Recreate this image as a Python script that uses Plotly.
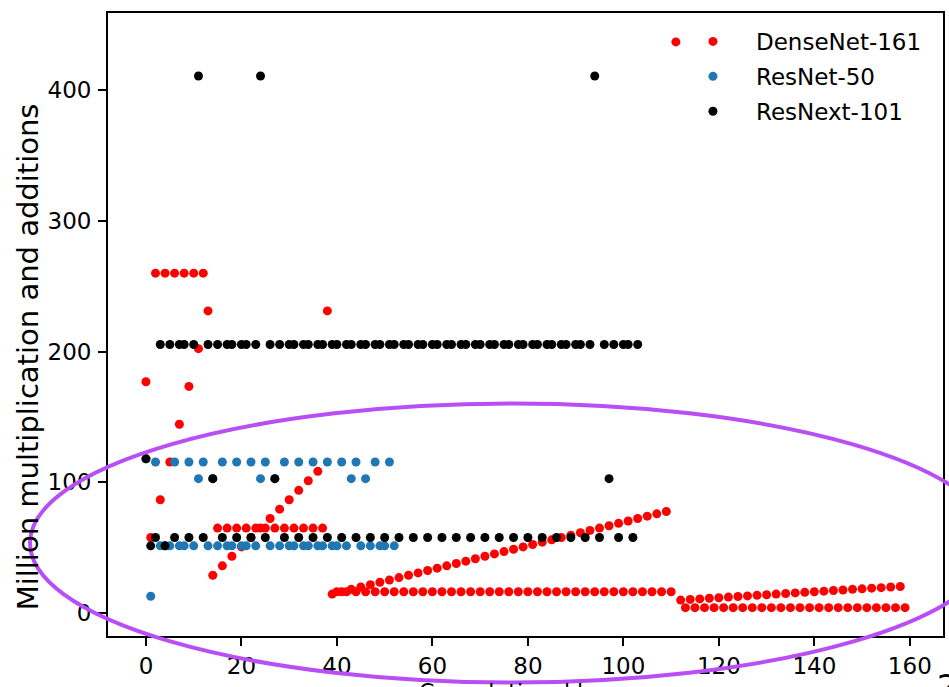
import plotly.graph_objects as go

# Cost of every convolution, in million multiply-adds, listed in network order.

# DenseNet-161: stem, 4 dense blocks (1x1 / 3x3 pairs) and 3 transition convs
densenet_stem = [177.0]
densenet_block1 = [57.8, 260.1, 86.7, 260.1, 115.6, 260.1, 144.5, 260.1,
                   173.4, 260.1, 202.3, 260.1]
densenet_trans1 = [231.2]
densenet_block2 = [28.9, 65.0, 36.1, 65.0, 43.4, 65.0, 50.6, 65.0,
                   57.8, 65.0, 65.0, 65.0, 72.3, 65.0, 79.5, 65.0,
                   86.7, 65.0, 93.9, 65.0, 101.2, 65.0, 108.4, 65.0]
densenet_trans2 = [231.2]
densenet_block3 = [14.5, 16.3, 16.3, 16.3, 18.1, 16.3, 19.9, 16.3,
                   21.7, 16.3, 23.5, 16.3, 25.3, 16.3, 27.1, 16.3,
                   28.9, 16.3, 30.7, 16.3, 32.5, 16.3, 34.3, 16.3,
                   36.1, 16.3, 37.9, 16.3, 39.7, 16.3, 41.5, 16.3,
                   43.4, 16.3, 45.2, 16.3, 47.0, 16.3, 48.8, 16.3,
                   50.6, 16.3, 52.4, 16.3, 54.2, 16.3, 56.0, 16.3,
                   57.8, 16.3, 59.6, 16.3, 61.4, 16.3, 63.2, 16.3,
                   65.0, 16.3, 66.8, 16.3, 68.6, 16.3, 70.4, 16.3,
                   72.3, 16.3, 74.1, 16.3, 75.9, 16.3, 77.7, 16.3]
densenet_trans3 = [437.1]
densenet_block4 = [9.9, 4.1, 10.4, 4.1, 10.8, 4.1, 11.3, 4.1,
                   11.7, 4.1, 12.2, 4.1, 12.6, 4.1, 13.1, 4.1,
                   13.5, 4.1, 14.0, 4.1, 14.5, 4.1, 14.9, 4.1,
                   15.4, 4.1, 15.8, 4.1, 16.3, 4.1, 16.7, 4.1,
                   17.2, 4.1, 17.6, 4.1, 18.1, 4.1, 18.5, 4.1,
                   19.0, 4.1, 19.4, 4.1, 19.9, 4.1, 20.3, 4.1]

# ResNet-50: stem and 4 stages of bottleneck blocks (with downsample convs)
resnet_stem = [118.0]
resnet_layer1 = [12.8, 115.6, 51.4, 51.4,
                 51.4, 115.6, 51.4,
                 51.4, 115.6, 51.4]
resnet_layer2 = [102.8, 115.6, 51.4, 102.8,
                 51.4, 115.6, 51.4,
                 51.4, 115.6, 51.4,
                 51.4, 115.6, 51.4]
resnet_layer3 = [102.8, 115.6, 51.4, 102.8,
                 51.4, 115.6, 51.4,
                 51.4, 115.6, 51.4,
                 51.4, 115.6, 51.4,
                 51.4, 115.6, 51.4,
                 51.4, 115.6, 51.4]
resnet_layer4 = [102.8, 115.6, 51.4, 102.8,
                 51.4, 115.6, 51.4,
                 51.4, 115.6, 51.4]

# ResNext-101 (32x8d): stem and 4 stages of grouped bottleneck blocks
resnext_stem = [118.0]
resnext_layer1 = [51.4, 57.8, 205.5, 51.4,
                  205.5, 57.8, 205.5,
                  205.5, 57.8, 205.5]
resnext_layer2 = [411.0, 57.8, 205.5, 102.8,
                  205.5, 57.8, 205.5,
                  205.5, 57.8, 205.5,
                  205.5, 57.8, 205.5]
resnext_layer3 = [411.0, 57.8, 205.5, 102.8,
                  205.5, 57.8, 205.5, 205.5, 57.8, 205.5,
                  205.5, 57.8, 205.5, 205.5, 57.8, 205.5,
                  205.5, 57.8, 205.5, 205.5, 57.8, 205.5,
                  205.5, 57.8, 205.5, 205.5, 57.8, 205.5,
                  205.5, 57.8, 205.5, 205.5, 57.8, 205.5,
                  205.5, 57.8, 205.5, 205.5, 57.8, 205.5,
                  205.5, 57.8, 205.5, 205.5, 57.8, 205.5,
                  205.5, 57.8, 205.5, 205.5, 57.8, 205.5,
                  205.5, 57.8, 205.5, 205.5, 57.8, 205.5,
                  205.5, 57.8, 205.5, 205.5, 57.8, 205.5,
                  205.5, 57.8, 205.5, 205.5, 57.8, 205.5]
resnext_layer4 = [411.0, 57.8, 205.5, 102.8,
                  205.5, 57.8, 205.5,
                  205.5, 57.8, 205.5]

densenet161 = (densenet_stem + densenet_block1 + densenet_trans1 +
               densenet_block2 + densenet_trans2 + densenet_block3 +
               densenet_trans3 + densenet_block4)
resnet50 = resnet_stem + resnet_layer1 + resnet_layer2 + resnet_layer3 + resnet_layer4
resnext101 = resnext_stem + resnext_layer1 + resnext_layer2 + resnext_layer3 + resnext_layer4

series_names = ["DenseNet-161", "ResNet-50", "ResNext-101"]
series_values = [densenet161, resnet50, resnext101]
series_colors = ["#ff0000", "#1f77b4", "#000000"]

x_ticks = [0, 20, 40, 60, 80, 100, 120, 140, 160]
y_ticks = [0, 100, 200, 300, 400]

x_title = "Convolutional layer"
y_title = "Million multiplication and additions"

FONT = "DejaVu Sans"
HIGHLIGHT = "rgb(184, 78, 244)"

fig = go.Figure()
for name, values, color in zip(series_names, series_values, series_colors):
    fig.add_trace(go.Scatter(
        x=list(range(len(values))), y=values, name=name, mode="markers",
        legendgroup=name,
        marker=dict(color=color, size=9, line=dict(width=0)),
    ))

axis_common = dict(
    showgrid=False, zeroline=False, showline=True, mirror=True,
    automargin=False,
    linecolor="black", linewidth=1.8,
    ticks="outside", ticklen=8, tickwidth=1.6, tickcolor="black",
    tickfont=dict(family=FONT, size=23, color="black"),
)
fig.update_xaxes(range=[-7.95, 166.95], tickvals=x_ticks,
                 ticklabelstandoff=0, **axis_common)
fig.update_yaxes(range=[-17.6, 459.2], tickvals=y_ticks,
                 ticklabelstandoff=2, **axis_common)

# axis titles
fig.add_annotation(text=y_title, xref="paper", yref="paper",
                   x=-0.0965, y=0.448, xanchor="center", yanchor="middle",
                   textangle=-90, showarrow=False,
                   font=dict(family=FONT, size=29, color="black"))
fig.add_annotation(text=x_title, xref="paper", yref="paper",
                   x=0.5, y=-0.0652, xanchor="center", yanchor="top",
                   showarrow=False,
                   font=dict(family=FONT, size=22, color="black"))

# hand-drawn highlight ring around the low-cost layers
fig.add_shape(type="circle", xref="paper", yref="paper",
              x0=-0.0934, x1=1.0611, y0=-0.0746, y1=0.3732,
              line=dict(color=HIGHLIGHT, width=4), layer="above")

fig.add_annotation(text="2", xref="paper", yref="paper", x=0.9904, y=-0.0459,
                   xanchor="left", yanchor="top", showarrow=False,
                   font=dict(family=FONT, size=32, color="black"))

fig.update_layout(
    width=949, height=687,
    margin=dict(l=108, r=6, t=13, b=51),
    plot_bgcolor="white", paper_bgcolor="white",
    font=dict(family=FONT, size=23, color="black"),
    legend=dict(x=0.673, y=0.9888, xanchor="left", yanchor="top",
                bgcolor="rgba(0,0,0,0)", itemwidth=76,
                traceorder="grouped", tracegroupgap=2,
                font=dict(family=FONT, size=23, color="black")),
)

fig.write_html("out.html")
